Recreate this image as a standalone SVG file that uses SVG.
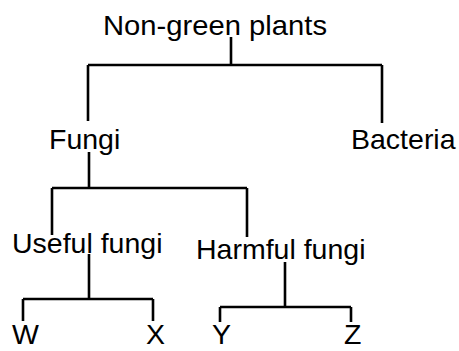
<svg xmlns="http://www.w3.org/2000/svg" width="459" height="351" viewBox="0 0 459 351">
<style>
text{font-family:"Liberation Sans",Arial,sans-serif;font-size:28.5px;fill:#000}
.c path{fill:none;stroke:#000;stroke-width:2.6}
</style>
<rect width="459" height="351" fill="#fff"/>
<g class="c" id="connectors">
<path d="M231,37V65M88,65H382M88,65V121M382,65V123"/>
<path d="M89,152V188M52,188H247M52,188V235M247,188V237"/>
<path d="M89,254V299M23,299H153M23,299V321M153,299V321"/>
<path d="M285,262V307M220,307H351M220,307V322M351,307V322"/>
</g>
<g id="n-nongreen"><text x="103" y="35" textLength="224" lengthAdjust="spacingAndGlyphs">Non-green plants</text></g>
<g id="n-fungi"><text x="49" y="149">Fungi</text></g>
<g id="n-bacteria"><text x="351" y="149">Bacteria</text></g>
<g id="n-useful"><text x="12" y="253">Useful fungi</text></g>
<g id="n-harmful"><text x="196" y="259">Harmful fungi</text></g>
<g id="n-w"><text x="12" y="344">W</text></g>
<g id="n-x"><text x="146" y="344">X</text></g>
<g id="n-y"><text x="212" y="344">Y</text></g>
<g id="n-z"><text x="344" y="344">Z</text></g>
</svg>
